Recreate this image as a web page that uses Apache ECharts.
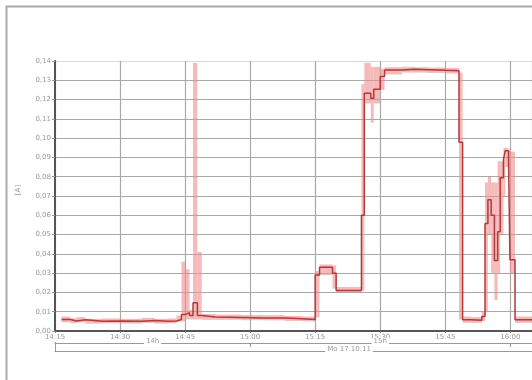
<!DOCTYPE html>
<html>
<head>
<meta charset="utf-8">
<script src="https://cdn.jsdelivr.net/npm/echarts@6/dist/echarts.min.js"></script>
<style>
html,body{margin:0;padding:0;background:#fff;}
#chart{width:532px;height:380px;}
</style>
</head>
<body>
<div id="chart"></div>
<script>
// Sample times (step starts)
const times = [
  '14:16:30','14:18:30','14:20:00','14:22:00','14:26:00','14:30:00','14:35:00','14:38:00','14:41:00','14:43:00',
  '14:44:10','14:45:00','14:46:00','14:46:50','14:47:50','14:48:50','14:52:00','14:58:00','15:03:00','15:08:00','15:12:00',
  '15:15:00','15:16:00','15:19:00','15:19:50','15:25:40','15:26:20','15:27:50','15:28:30','15:30:00','15:31:00',
  '15:35:00','15:38:00','15:41:00','15:45:00','15:48:10','15:49:00','15:51:00','15:53:25','15:54:10','15:54:50',
  '15:55:35','15:56:20','15:57:05','15:57:40','15:58:25','15:58:50','15:59:35','15:59:55','16:01:05','16:05:00'
];
// Mean current [A]
const meanVals = [
  0.0060,0.0052,0.0058,0.0050,0.0052,0.0050,0.0054,0.0050,0.0052,0.0060,
  0.0085,0.0095,0.0080,0.0147,0.0080,0.0072,0.0070,0.0068,0.0067,0.0064,0.0060,
  0.0290,0.0330,0.0300,0.0210,0.0600,0.1233,0.1207,0.1254,0.1320,0.1353,
  0.1357,0.1355,0.1352,0.1350,0.0979,0.0058,0.0056,0.0075,0.0558,0.0680,
  0.0600,0.0365,0.0514,0.0795,0.0890,0.0935,0.0890,0.0370,0.0058,0.0058
];
// Minimum of band
const lowVals = [
  0.0045,0.0040,0.0045,0.0038,0.0040,0.0038,0.0042,0.0038,0.0040,0.0048,
  0.0050,0.0060,0.0060,0.0060,0.0060,0.0058,0.0058,0.0056,0.0055,0.0052,0.0050,
  0.0070,0.0290,0.0220,0.0200,0.0210,0.1180,0.1080,0.1180,0.1250,0.1330,
  0.1340,0.1340,0.1338,0.1335,0.0060,0.0042,0.0042,0.0050,0.0100,0.0500,
  0.0300,0.0160,0.0300,0.0500,0.0700,0.0850,0.0800,0.0300,0.0042,0.0042
];
// Maximum of band
const highVals = [
  0.0075,0.0066,0.0072,0.0063,0.0065,0.0063,0.0068,0.0063,0.0065,0.0080,
  0.0360,0.0320,0.0110,0.1390,0.0410,0.0088,0.0085,0.0083,0.0082,0.0078,0.0075,
  0.0310,0.0345,0.0340,0.0228,0.1280,0.1390,0.1370,0.1370,0.1360,0.1368,
  0.1370,0.1368,0.1366,0.1364,0.1340,0.0075,0.0072,0.0100,0.0770,0.0800,
  0.0770,0.0770,0.0880,0.0880,0.0950,0.0950,0.0940,0.0930,0.0075,0.0075
];
const yTicks = ['0,00','0,01','0,02','0,03','0,04','0,05','0,06','0,07','0,08','0,09','0,10','0,11','0,12','0,13','0,14'];
const xTickLabels = ['14:15','14:30','14:45','15:00','15:15','15:30','15:45','16:00'];
const hourLabels = ['14h','15h'];
const dayLabel = 'Mo 17.10.11';

function toMin(s){
  const p = s.split(':').map(Number);
  return p[0]*60 + p[1] + (p[2]||0)/60 - 14*60;
}
const xs = times.map(toMin);
// band cells: [start, end, low, high]
const bandData = [];
for (let i = 0; i < xs.length - 1; i++) {
  bandData.push([xs[i], xs[i+1], lowVals[i], highVals[i]]);
}

const splitColors = yTicks.map((_, i) => i === yTicks.length - 1 ? '#d8d8d8' : '#a9a9a9');

const chart = echarts.init(document.getElementById('chart'), null, {renderer:'canvas'});
const lblStyle = {color:'#999', fontSize:7, fontFamily:'DejaVu Sans'};
chart.setOption({
  animation:false,
  backgroundColor:'#fff',
  grid:{left:55, top:61, width:479, height:270, containLabel:false},
  graphic:[{
    type:'rect', left:4, top:4, silent:true, z:-10,
    shape:{x:0,y:0,width:620,height:500},
    style:{fill:'none', stroke:'#aaaaaa', lineWidth:2}
  }],
  xAxis:[{
    type:'value', min:15, max:125, interval:15,
    axisLine:{show:true, lineStyle:{color:'#555', width:2}},
    axisTick:{show:true, length:2, lineStyle:{color:'#777'}},
    axisLabel:{...lblStyle, margin:3, showMaxLabel:false,
      formatter:v => { const i = Math.round((v-15)/15); return (v<=120 && Math.abs((v-15)/15 - i) < 1e-6) ? xTickLabels[i] : ''; }},
    splitLine:{show:true, lineStyle:{color:'#a9a9a9', width:1.2}}
  },{
    type:'value', min:15, max:125, position:'bottom', offset:12,
    axisLine:{show:true, onZero:false, lineStyle:{color:'#999', width:1}},
    axisTick:{show:true, customValues:[15,60,120], length:4, lineStyle:{color:'#999'}},
    axisLabel:{...lblStyle, customValues:[37.5,90], margin:-5, backgroundColor:'#fff', padding:[0,2],
      formatter:v => v < 60 ? hourLabels[0] : hourLabels[1]},
    splitLine:{show:false}
  },{
    type:'value', min:15, max:125, position:'bottom', offset:20,
    axisLine:{show:true, onZero:false, lineStyle:{color:'#999', width:1}},
    axisTick:{show:true, customValues:[15], length:9, inside:true, lineStyle:{color:'#999'}},
    axisLabel:{...lblStyle, customValues:[82.8], margin:-5, backgroundColor:'#fff', padding:[0,2],
      formatter:() => dayLabel},
    splitLine:{show:false}
  }],
  yAxis:{
    type:'value', min:0, max:0.14, interval:0.01,
    name:'[A]', nameLocation:'middle', nameGap:33, nameRotate:90,
    nameTextStyle:{color:'#999', fontSize:7, fontFamily:'DejaVu Sans', padding:[0,0,0,12]},
    axisLine:{show:true, lineStyle:{color:'#555', width:2}},
    axisTick:{show:true, length:3, lineStyle:{color:'#999'}},
    axisLabel:{...lblStyle, margin:4,
      formatter:v => yTicks[Math.round(v*100)] || ''},
    splitLine:{show:true, lineStyle:{color:splitColors, width:1.2}}
  },
  series:[{
    type:'custom', name:'range', silent:true, z:2,
    data: bandData,
    encode:{x:[0,1], y:[2,3]},
    renderItem:(params, api) => {
      const p0 = api.coord([api.value(0), api.value(3)]);
      const p1 = api.coord([api.value(1), api.value(2)]);
      let h = p1[1] - p0[1];
      let y = p0[1];
      if (h < 4) { y = y - (4 - h)/2; h = 4; }
      return {
        type:'rect',
        shape:{x:p0[0], y:y, width:p1[0]-p0[0], height:h},
        style:{fill:'rgba(238,140,140,0.6)'}
      };
    }
  },{
    type:'line', name:'mean', step:'end', symbol:'none', silent:true,
    data: xs.map((x,i)=>[x, meanVals[i]]),
    lineStyle:{color:'#b03a3c', width:1.5},
    z:3
  }]
});
</script>
</body>
</html>
